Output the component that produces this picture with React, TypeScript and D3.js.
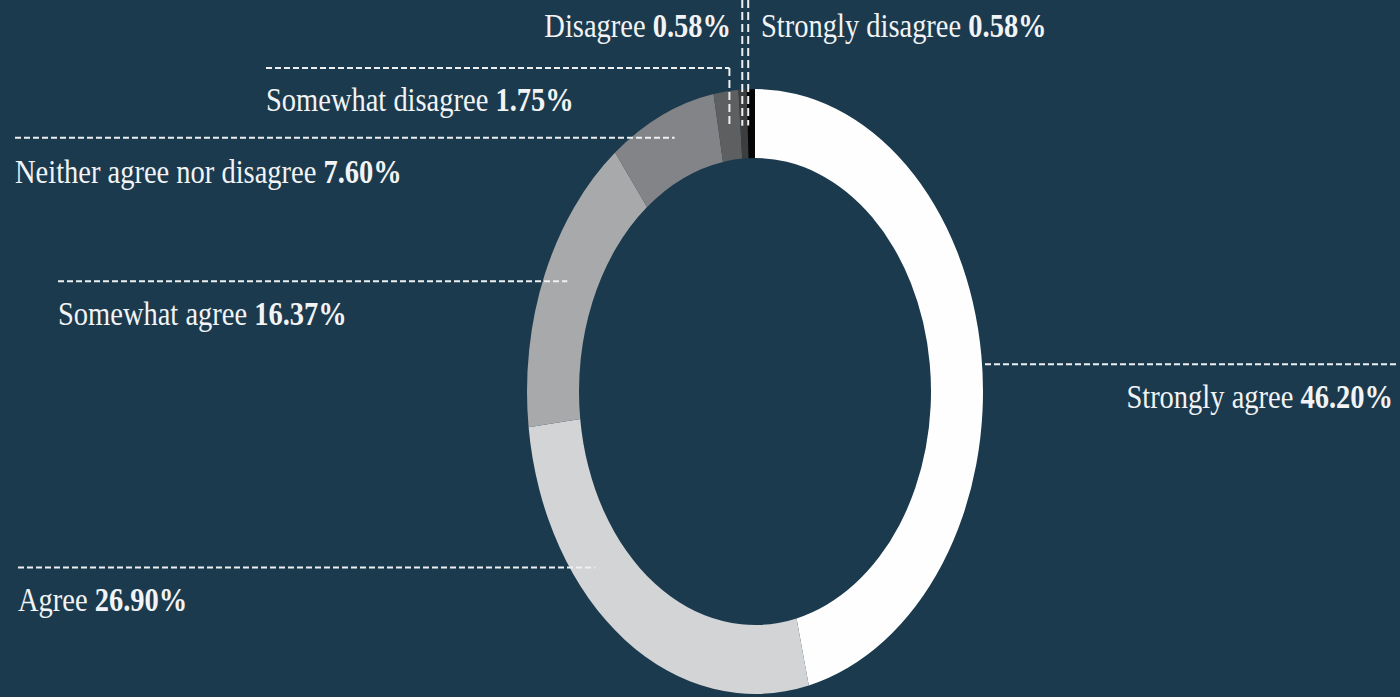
import React from "react";
import * as d3 from "d3";

// ---- Data ----
const categories = [
  "Strongly agree",
  "Agree",
  "Somewhat agree",
  "Neither agree nor disagree",
  "Somewhat disagree",
  "Disagree",
  "Strongly disagree",
];
const values = [46.2, 26.9, 16.37, 7.6, 1.75, 0.58, 0.58];
const valueLabels = ["46.20%", "26.90%", "16.37%", "7.60%", "1.75%", "0.58%", "0.58%"];
const colors = ["#fefefe", "#d3d4d6", "#a8a9ab", "#838487", "#5e5f61", "#3d3e40", "#050505"];

// ---- Layout (label placement, not data) ----
type LabelLayout = {
  kind: "h" | "elbow" | "v";
  frac: number; // position along the slice where the leader attaches
  r: number; // radial factor of the attach point (1 = outer edge)
  textX: number;
  textY: number;
  anchor: "start" | "end";
  lineX?: number; // far end of horizontal line
  elbowY?: number;
};
const labelLayout: LabelLayout[] = [
  { kind: "h", frac: 0.51, r: 1.0, textX: 1393, textY: 408, anchor: "end", lineX: 1396 },
  { kind: "h", frac: 0.66, r: 0.91, textX: 18, textY: 611, anchor: "start", lineX: 18 },
  { kind: "h", frac: 0.52, r: 0.9, textX: 58, textY: 325, anchor: "start", lineX: 58 },
  { kind: "h", frac: 0.55, r: 0.91, textX: 15, textY: 183, anchor: "start", lineX: 15 },
  { kind: "elbow", frac: 0.5, r: 0.88, textX: 266, textY: 111, anchor: "start", lineX: 266, elbowY: 68 },
  { kind: "v", frac: 0.26, r: 0.88, textX: 731, textY: 37, anchor: "end" },
  { kind: "v", frac: 0.07, r: 0.88, textX: 761, textY: 37, anchor: "start" },
];

const W = 1400;
const H = 697;
const CX = 755;
const CY = 391.5;
const RX = 228;
const RX_IN = 176;
const SY = 302.5 / 228; // vertical stretch of the picture
const TEXT_SX = 1.14;
const FONT_SIZE = 25;

export default function App() {
  const total = d3.sum(values);
  const angle = d3.scaleLinear().domain([0, total]).range([0, 2 * Math.PI]);
  const pie = d3
    .pie<number>()
    .sort(null)
    .value((d) => d)
    .startAngle(0)
    .endAngle(angle(total));
  const arcs = pie(values);
  const arcGen = d3.arc<d3.PieArcDatum<number>>().innerRadius(RX_IN).outerRadius(RX);

  const point = (a: number, r: number) => ({
    x: CX + RX * r * Math.sin(a),
    y: CY - RX * SY * r * Math.cos(a),
  });

  const lineStyle = { stroke: "#eef0f2", strokeWidth: 2, fill: "none" };

  return (
    <svg
      width={W}
      height={H}
      style={{ position: "absolute", left: 0, top: 0, background: "#1b3a4e" }}
    >
      <rect x={0} y={0} width={W} height={H} fill="#1b3a4e" />
      <g transform={`translate(${CX},${CY}) scale(1,${SY})`}>
        {arcs.map((a, i) => (
          <path key={i} d={arcGen(a) || ""} fill={colors[i]} />
        ))}
      </g>
      {arcs.map((a, i) => {
        const L = labelLayout[i];
        const ang = a.startAngle + (a.endAngle - a.startAngle) * L.frac;
        const p = point(ang, L.r);
        let line: React.ReactNode = null;
        if (L.kind === "h") {
          line = (
            <line x1={L.lineX} x2={p.x} y1={p.y} y2={p.y} {...lineStyle} strokeDasharray="6 3" />
          );
        } else if (L.kind === "elbow") {
          line = (
            <g>
              <line x1={L.lineX} x2={p.x} y1={L.elbowY} y2={L.elbowY} {...lineStyle} strokeDasharray="6 3" />
              <line x1={p.x} x2={p.x} y1={L.elbowY} y2={p.y} {...lineStyle} strokeDasharray="8 4" />
            </g>
          );
        } else {
          line = <line x1={p.x} x2={p.x} y1={0} y2={p.y} {...lineStyle} strokeDasharray="8 4" />;
        }
        return (
          <g key={i}>
            {line}
            <text
              transform={`translate(${L.textX},${L.textY}) scale(${TEXT_SX},${SY})`}
              textAnchor={L.anchor}
              fill="#f2f3f4"
              fontFamily="'Liberation Serif', 'DejaVu Serif', serif"
              fontSize={FONT_SIZE}
            >
              {categories[i] + " "}
              <tspan fontWeight="bold">{valueLabels[i]}</tspan>
            </text>
          </g>
        );
      })}
    </svg>
  );
}
